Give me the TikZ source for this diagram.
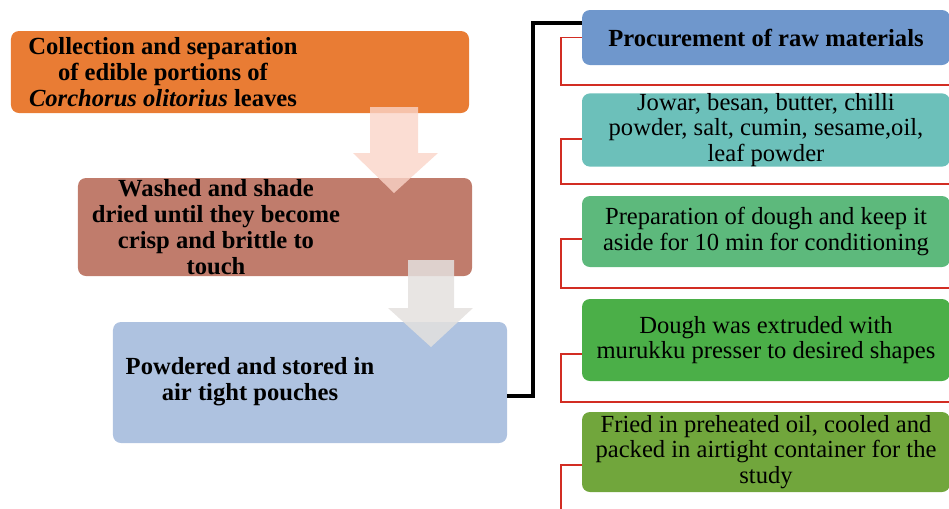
\documentclass[tikz,border=0pt]{standalone}
\usepackage{fontspec}
\setmainfont{Liberation Serif}
\usetikzlibrary{positioning}

\definecolor{stageA}{RGB}{233,124,52}
\definecolor{stageB}{RGB}{192,124,108}
\definecolor{stageC}{RGB}{174,194,224}
\definecolor{itemA}{RGB}{111,151,204}
\definecolor{itemB}{RGB}{108,192,186}
\definecolor{itemC}{RGB}{93,185,124}
\definecolor{itemD}{RGB}{75,175,72}
\definecolor{itemE}{RGB}{113,166,60}
\definecolor{flowA}{RGB}{250,212,200}
\definecolor{flowB}{RGB}{228,225,222}
\definecolor{bracket}{RGB}{210,45,35}

\begin{document}
\begin{tikzpicture}[x=0.2mm, y=-0.2mm,
    stage/.style = {rounded corners=1.6mm, inner sep=0pt},
    item/.style = {stage, minimum width=7.36cm, align=center, font=\fontsize{14}{14.5}\selectfont},
    note/.style = {align=center, font=\bfseries\fontsize{14}{14.8}\selectfont},
    link/.style = {draw=bracket, line width=1.1pt},
    trunk/.style = {draw=black, line width=1.8pt}]
    \useasboundingbox (0,0) rectangle (949,508);
    \clip (0,0) rectangle (949,508);

    % left column
    \node[stage, fill=stageA, minimum width=9.16cm, minimum height=1.64cm] (b1) at (240,72) {};
    \node[stage, fill=stageB, minimum width=7.88cm, minimum height=1.96cm] (b2) at (275,227) {};
    \node[stage, fill=stageC, minimum width=7.88cm, minimum height=2.42cm] (b3) at (310,382.5) {};

    \node[note] (t1) at (163,72) {Collection and separation\\of edible portions of\\\textit{Corchorus olitorius} leaves};
    \node[note] (t2) at (216,227) {Washed and shade\\dried until they become\\crisp and brittle to\\touch};
    \node[note] (t3) at (250,382) {Powdered and stored in\\air tight pouches};

    % block arrows
    \fill[flowA, opacity=0.8] (370,107) -- (418,107) -- (418,153) -- (438,153) -- (394,193)
        -- (353,153) -- (370,153) -- cycle;
    \fill[flowB, opacity=0.85] (408,260) -- (454,260) -- (454,308) -- (473,308) -- (431,347)
        -- (388,308) -- (408,308) -- cycle;

    % right column
    \node[item, fill=itemA, minimum height=1.10cm, font=\bfseries\fontsize{14}{14.5}\selectfont] (r1) at (766,37.5) {Procurement of raw materials};
    \node[item, fill=itemB, minimum height=1.36cm] (r2) at (766,130) {Jowar, besan, butter, chilli\\powder, salt, cumin, sesame,oil,\\leaf powder};
    \node[item, fill=itemC, minimum height=1.42cm] (r3) at (766,231.5) {Preparation of dough and keep it\\aside for 10 min for conditioning};
    \node[item, fill=itemD, minimum height=1.64cm] (r4) at (766,340) {Dough was extruded with\\murukku presser to desired shapes};
    \node[item, fill=itemE, minimum height=1.60cm] (r5) at (766,452) {Fried in preheated oil, cooled and\\packed in airtight container for the\\study};

    \foreach \n/\dy/\low in {r1/0mm/85, r2/-1.8mm/184, r3/-1.5mm/288, r4/-2.8mm/402, r5/-2.6mm/520}
        \draw[link] ([yshift=\dy]\n.west) -- ++(-21,0) |- (955,\low);

    \coordinate (j) at (533,23);
    \draw[trunk] ([yshift=-2.7mm]b3.east) -| (j) -- (j -| r1.west);
\end{tikzpicture}
\end{document}
